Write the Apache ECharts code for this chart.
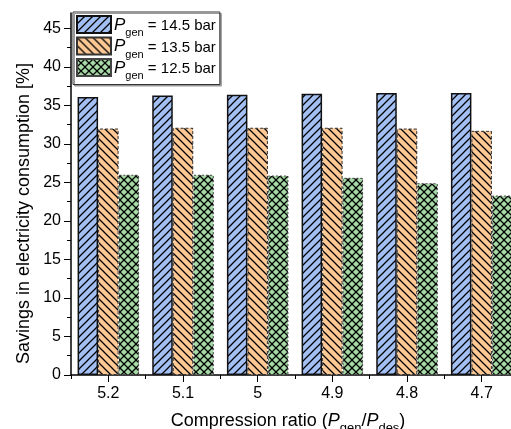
<!DOCTYPE html>
<html>
<head>
<meta charset="utf-8">
<script src="https://cdn.jsdelivr.net/npm/echarts@6/dist/echarts.min.js"></script>
<style>
html,body{margin:0;padding:0;background:#fff;}
#c{width:511px;height:429px;}
</style>
</head>
<body>
<div id="c"></div>
<script>
var categories = ['5.2', '5.1', '5', '4.9', '4.8', '4.7'];
var p145 = [36.1, 36.3, 36.4, 36.5, 36.6, 36.6];
var p135 = [32.0, 32.1, 32.1, 32.1, 32.0, 31.7];
var p125 = [26.0, 26.0, 25.9, 25.6, 24.9, 23.3];
var seriesNames = ['14.5', '13.5', '12.5'];
var majorTicks = [0, 5, 10, 15, 20, 25, 30, 35, 40, 45];
var minorTicks = [0, 2.5, 5, 7.5, 10, 12.5, 15, 17.5, 20, 22.5, 25, 27.5, 30, 32.5, 35, 37.5, 40, 42.5, 45];
var yTitle = 'Savings in electricity consumption [%]';

function hatch(bg, kind) {
  var s = 8;
  var cv = document.createElement('canvas');
  cv.width = s; cv.height = s;
  var g = cv.getContext('2d');
  g.fillStyle = bg;
  g.fillRect(0, 0, s, s);
  g.strokeStyle = '#000';
  g.lineWidth = 1.25;
  function fwd() {
    g.beginPath();
    g.moveTo(-1, s + 1); g.lineTo(s + 1, -1);
    g.moveTo(-1, 1); g.lineTo(1, -1);
    g.moveTo(s - 1, s + 1); g.lineTo(s + 1, s - 1);
    g.stroke();
  }
  function back() {
    g.beginPath();
    g.moveTo(-1, -1); g.lineTo(s + 1, s + 1);
    g.moveTo(s - 1, -1); g.lineTo(s + 1, 1);
    g.moveTo(-1, s - 1); g.lineTo(1, s + 1);
    g.stroke();
  }
  if (kind === 'f') fwd();
  else if (kind === 'b') back();
  else { fwd(); back(); }
  return { image: cv, repeat: 'repeat' };
}

var chart = echarts.init(document.getElementById('c'), null, { renderer: 'canvas' });
var font = 'Liberation Sans, Arial, sans-serif';

function legendFmt(name) {
  return '{i|P}{s|gen}{n| = ' + name + ' bar}';
}

var option = {
  animation: false,
  backgroundColor: '#fff',
  textStyle: { fontFamily: font, color: '#000' },
  grid: { left: 71, top: 13, width: 448, bottom: 54, containLabel: false, outerBoundsMode: 'none' },
  graphic: [{
    type: 'text', x: 24.5, y: 213.5, rotation: Math.PI / 2, silent: true,
    style: {
      text: yTitle, fill: '#000', font: '18px Liberation Sans, Arial, sans-serif',
      textAlign: 'center', textVerticalAlign: 'middle', align: 'center', verticalAlign: 'middle'
    }
  }],
  legend: {
    orient: 'vertical',
    left: 73, top: 12,
    itemWidth: 34, itemHeight: 17, itemGap: -2,
    padding: [3, 4, 3, 3],
    backgroundColor: '#fff',
    borderColor: '#333', borderWidth: 1,
    shadowColor: '#999', shadowOffsetX: 1.5, shadowOffsetY: 1.5, shadowBlur: 0,
    icon: 'rect',
    data: seriesNames,
    formatter: legendFmt,
    textStyle: {
      fontFamily: font, color: '#000', padding: [0, 0, 0, -2],
      rich: {
        i: { fontSize: 17, fontStyle: 'italic', fontFamily: font, color: '#000', lineHeight: 18, verticalAlign: 'bottom' },
        s: { fontSize: 11, fontFamily: font, color: '#000', lineHeight: 8, verticalAlign: 'bottom', padding: [0, 0, -5, 0] },
        n: { fontSize: 15, fontFamily: font, color: '#000', lineHeight: 18, verticalAlign: 'bottom' }
      }
    }
  },
  xAxis: [
    {
      type: 'category', data: categories, position: 'bottom',
      axisLine: { show: true, lineStyle: { color: '#000', width: 1.5 } },
      axisTick: { show: true, alignWithLabel: false, length: 4, lineStyle: { color: '#000', width: 1 } },
      axisLabel: { fontSize: 16, color: '#000', margin: 11, fontFamily: font },
      name: '{a|Compression ratio (}{i|P}{s|gen}{a|/}{i|P}{s|des}{a|)}',
      nameLocation: 'middle', nameGap: 35,
      nameTextStyle: {
        padding: [0, 14, 0, 0],
        rich: {
          a: { fontSize: 18, fontFamily: font, color: '#000', lineHeight: 20, verticalAlign: 'bottom' },
          i: { fontSize: 18, fontStyle: 'italic', fontFamily: font, color: '#000', lineHeight: 20, verticalAlign: 'bottom' },
          s: { fontSize: 13, fontFamily: font, color: '#000', lineHeight: 8, verticalAlign: 'bottom', padding: [0, 0, -5, 0] }
        }
      }
    },
    {
      type: 'category', data: categories, position: 'bottom',
      axisLine: { show: false },
      axisTick: { show: true, alignWithLabel: true, length: 7, lineStyle: { color: '#000', width: 1 } },
      axisLabel: { show: false }
    }
  ],
  yAxis: [
    {
      type: 'value', min: 0, max: 47, interval: 5, position: 'left',
      axisLine: { show: true, lineStyle: { color: '#000', width: 1.5 } },
      axisTick: { show: true, length: 4, customValues: minorTicks, lineStyle: { color: '#000', width: 1 } },
      axisLabel: { show: false },
      splitLine: { show: false }
    },
    {
      type: 'value', min: 0, max: 47, interval: 5, position: 'left', offset: 0,
      axisLine: { show: false },
      axisTick: { show: true, length: 7, customValues: majorTicks, lineStyle: { color: '#000', width: 1 } },
      axisLabel: { show: true, customValues: majorTicks, fontSize: 16, color: '#000', margin: 10, fontFamily: font },
      splitLine: { show: false }
    }
  ],
  series: [
    {
      name: seriesNames[0], type: 'bar', data: p145, xAxisIndex: 0, yAxisIndex: 0,
      barWidth: 20.5, barGap: '0%',
      itemStyle: { color: hatch('#a3c0f4', 'f'), borderColor: '#111', borderWidth: 1.5, borderType: 'solid' }
    },
    {
      name: seriesNames[1], type: 'bar', data: p135, xAxisIndex: 0, yAxisIndex: 0,
      barWidth: 20.5, barGap: '0%',
      itemStyle: { color: hatch('#fec894', 'b'), borderColor: '#333', borderWidth: 1, borderType: [3, 2] }
    },
    {
      name: seriesNames[2], type: 'bar', data: p125, xAxisIndex: 0, yAxisIndex: 0,
      barWidth: 20.5, barGap: '0%',
      itemStyle: { color: hatch('#a5d9a5', 'x'), borderColor: '#444', borderWidth: 1, borderType: [2, 2] }
    }
  ]
};
chart.setOption(option);
</script>
</body>
</html>
